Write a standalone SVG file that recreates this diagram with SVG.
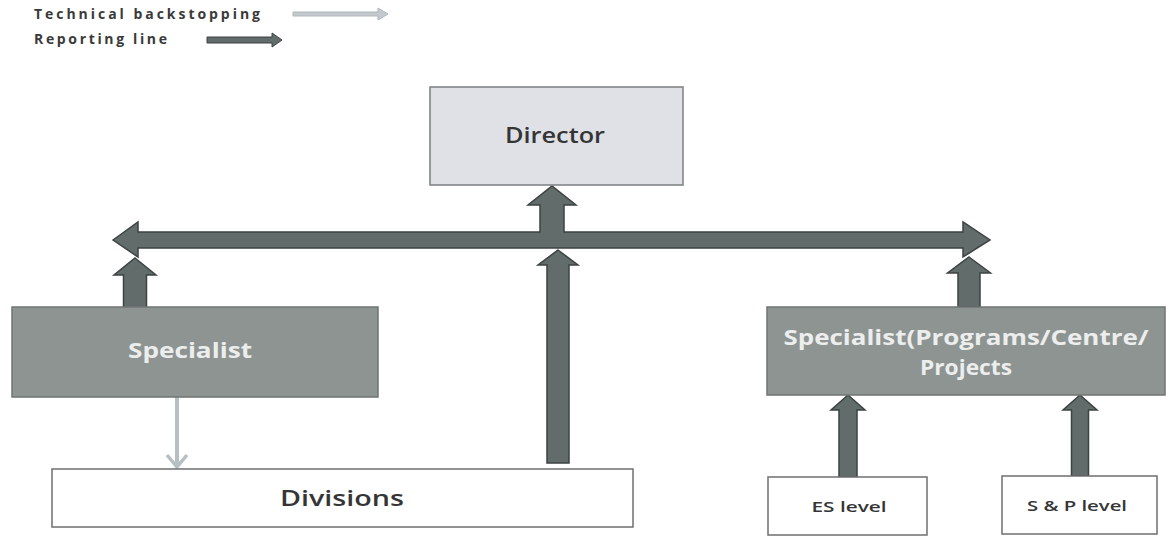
<svg xmlns="http://www.w3.org/2000/svg" width="1167" height="538" viewBox="0 0 1167 538">
<style>
text{font-family:"Open Sans","Liberation Sans",sans-serif}
.rep{fill:#626c6a;stroke:#3c4342;stroke-width:1.5;stroke-linejoin:miter}
.light{fill:#dfe1e6;stroke:#7d7f82;stroke-width:1.5}
.spec{fill:#8e9492;stroke:#6f7573;stroke-width:1.5}
.white{fill:#ffffff;stroke:#6f6f6f;stroke-width:1.5}
.dark{fill:#353535;font-weight:600}
.onspec{fill:#eceeee;font-weight:700}
.leg{fill:#3a3a3a;font-size:14px;font-weight:700}
.tb{fill:none;stroke:#b8bfc3;stroke-width:4}
</style>
<defs>
<marker id="chev" markerWidth="16" markerHeight="24" refX="14" refY="12" orient="auto" markerUnits="userSpaceOnUse" viewBox="0 0 16 24">
<path d="M2,2 L14,12 L2,22" fill="none" stroke="#b8bfc3" stroke-width="3.5"/>
</marker>
</defs>
<g id="legend">
<text class="leg" x="34" y="19" textLength="226" lengthAdjust="spacing">Technical backstopping</text>
<text class="leg" x="34" y="44" textLength="133" lengthAdjust="spacing">Reporting line</text>
<polygon points="293,12 378,12 378,8 388,14 378,20 378,16 293,16" fill="#c3c9cc" stroke="#b0b7ba" stroke-width="1"/>
<polygon points="207,37 272,37 272,33 282,40 272,47 272,43 207,43" class="rep" style="stroke-width:1"/>
</g>
<g id="connectors">
<polygon class="rep" points="113,240 138,222 138,232 540,232 540,205 528,205 552,186 576,205 564,205 564,232 963,232 963,222 990,240 963,257 963,248 138,248 138,257"/>
<polygon class="rep" points="135,258 156,275 146.5,275 146.5,308 123.5,308 123.5,275 114,275"/>
<polygon class="rep" points="969,257 990.5,273 980,273 980,307 958,307 958,273 947.5,273"/>
<polygon class="rep" points="558,250 578,265 569,265 569,463 547,463 547,265 538,265"/>
<polygon class="rep" points="848,395 865,410 857,410 857,477 839,477 839,410 831,410"/>
<polygon class="rep" points="1080,395 1097,410 1088.5,410 1088.5,476 1071.5,476 1071.5,410 1063,410"/>
<line class="tb" x1="177" y1="397" x2="177" y2="467" marker-end="url(#chev)"/>
</g>
<g id="director">
<rect class="light" x="430" y="87" width="253" height="98"/>
<text class="dark" x="555" y="143" font-size="21" text-anchor="middle" textLength="100" lengthAdjust="spacingAndGlyphs">Director</text>
</g>
<g id="specialist">
<rect class="spec" x="12" y="307" width="366" height="90"/>
<text class="onspec" x="190" y="358" font-size="22" text-anchor="middle" textLength="124" lengthAdjust="spacingAndGlyphs">Specialist</text>
</g>
<g id="specialist-programs">
<rect class="spec" x="767" y="307" width="398" height="88"/>
<text class="onspec" x="966" y="345" font-size="21" text-anchor="middle" textLength="365" lengthAdjust="spacingAndGlyphs">Specialist(Programs/Centre/</text>
<text class="onspec" x="966" y="375" font-size="21" text-anchor="middle" textLength="92" lengthAdjust="spacingAndGlyphs">Projects</text>
</g>
<g id="divisions">
<rect class="white" x="52" y="469" width="581" height="58"/>
<text class="dark" x="342" y="506" font-size="22" text-anchor="middle" textLength="124" lengthAdjust="spacingAndGlyphs">Divisions</text>
</g>
<g id="es-level">
<rect class="white" x="768" y="477" width="159" height="58"/>
<text class="dark" x="849" y="512" font-size="15" text-anchor="middle" textLength="75" lengthAdjust="spacingAndGlyphs">ES level</text>
</g>
<g id="sp-level">
<rect class="white" x="1002" y="476" width="155" height="58"/>
<text class="dark" x="1077" y="511" font-size="15" text-anchor="middle" textLength="100" lengthAdjust="spacingAndGlyphs">S &amp; P level</text>
</g>
</svg>
